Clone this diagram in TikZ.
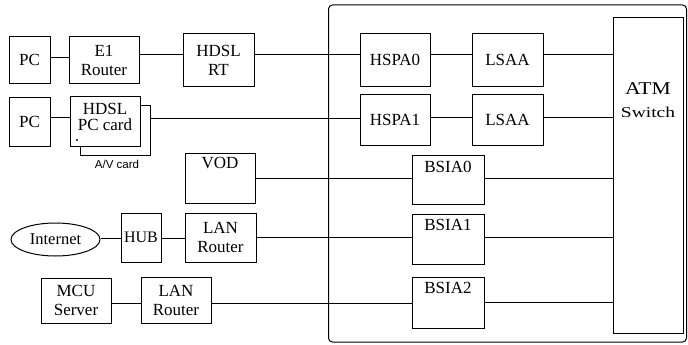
\documentclass[tikz,border=0pt]{standalone}
\usepackage{fontspec}
\usepackage{graphicx}
\setmainfont{Liberation Serif}
\newfontfamily\lsans{Liberation Sans}
\usetikzlibrary{shapes.geometric}
\begin{document}
\begin{tikzpicture}[x=1pt,y=-1pt,
  box/.style={draw, line width=1pt, rectangle, inner sep=0pt, align=center,
              font=\fontsize{17}{19}\selectfont},
  txt/.style={inner sep=0pt, align=center, font=\fontsize{17}{16}\selectfont},
  wire/.style={line width=0.9pt}]
\useasboundingbox (0,0) rectangle (688,345);

% big enclosure
\node[draw, line width=1pt, rectangle, rounded corners=4pt, inner sep=0pt,
      minimum width=358pt, minimum height=337pt] (encl) at (507.5,173.5) {};

% left column
\node[box, minimum width=41pt, minimum height=46pt] (pc1) at (29.5,60) {PC};
\node[box, minimum width=70pt, minimum height=46pt] (e1) at (104,60) {E1\\Router};
\node[box, minimum width=71pt, minimum height=52pt] (rt) at (218.5,60) {HDSL\\RT};

\node[box, minimum width=41pt, minimum height=49pt] (pc2) at (29.5,121.5) {PC};
\node[box, minimum width=70pt, minimum height=50pt] (cardback) at (115,130.5) {};
\node[box, fill=white, minimum width=70pt, minimum height=50pt] (card) at (105,121) {};
\node[txt] (cardtxt) at (105,117) {HDSL\\PC card};
\fill (77,140) circle (1.2pt);
\node[inner sep=0pt, font=\lsans\fontsize{11.5}{12}\selectfont] (avlbl) at (117,164) {A/V card};

\node[box, minimum width=70pt, minimum height=50pt, text height=15pt, text depth=35pt] (vod) at (220,178) {VOD};

\node[draw, line width=1pt, ellipse, inner sep=0pt, minimum width=89pt, minimum height=33pt,
      font=\fontsize{16.5}{18}\selectfont] (inet) at (55.5,239.5) {Internet};
\node[box, font=\fontsize{16}{18}\selectfont, minimum width=40pt, minimum height=49pt] (hub) at (141,237.5) {HUB};
\node[box, minimum width=71pt, minimum height=49pt] (lan1) at (220.5,237.5) {LAN\\Router};

\node[box, minimum width=70pt, minimum height=45pt] (mcu) at (76,300.5) {MCU\\Server};
\node[box, minimum width=70pt, minimum height=46pt] (lan2) at (176,300) {LAN\\Router};

% inside enclosure
\node[box, minimum width=70pt, minimum height=52pt] (hspa0) at (395,60) {HSPA0};
\node[box, minimum width=71pt, minimum height=52pt] (lsaa0) at (507.5,60) {LSAA};
\node[box, minimum width=70pt, minimum height=51pt] (hspa1) at (395,119.5) {HSPA1};
\node[box, minimum width=71pt, minimum height=51pt] (lsaa1) at (507.5,119.5) {LSAA};

\node[box, minimum width=72pt, minimum height=49pt, text height=17.5pt, text depth=31.5pt] (bsia0) at (448,179.5) {BSIA0};
\node[box, minimum width=72pt, minimum height=50pt, text height=16.5pt, text depth=33.5pt] (bsia1) at (448,239) {BSIA1};
\node[box, minimum width=72pt, minimum height=51pt, text height=16.5pt, text depth=34.5pt] (bsia2) at (448,302.5) {BSIA2};

\node[box, minimum width=70pt, minimum height=315pt] (atm) at (648,175.5) {};
\node[inner sep=0pt, font=\fontsize{18}{18}\selectfont] (atmA) at (648,89) {\scalebox{1.2}[1]{ATM}};
\node[inner sep=0pt, font=\fontsize{15}{15}\selectfont] (atmB) at (648,112) {\scalebox{1.3}[1]{Switch}};

% row levels
\coordinate (r1a) at (0,57);
\coordinate (r1) at (0,54);
\coordinate (r2) at (0,117);
\coordinate (r2b) at (0,118);
\coordinate (r3) at (0,178);
\coordinate (r4) at (0,238);
\coordinate (r4b) at (0,237);
\coordinate (r5) at (0,303);
\coordinate (r5b) at (0,302);

% connectors
\draw[wire] (pc1.east |- r1a) -- (e1.west |- r1a);
\draw[wire] (e1.east |- r1) -- (rt.west |- r1);
\draw[wire] (rt.east |- r1) -- (hspa0.west |- r1);
\draw[wire] (hspa0.east |- r1) -- (lsaa0.west |- r1);
\draw[wire] (lsaa0.east |- r1) -- (atm.west |- r1);

\draw[wire] (pc2.east |- r2) -- (card.west |- r2);
\draw[wire] (cardback.east |- r2b) -- (hspa1.west |- r2b);
\draw[wire] (hspa1.east |- r2) -- (lsaa1.west |- r2);
\draw[wire] (lsaa1.east |- r2) -- (atm.west |- r2);

\draw[wire] (vod.east |- r3) -- (bsia0.west |- r3);
\draw[wire] (bsia0.east |- r3) -- (atm.west |- r3);

\draw[wire] (inet.east |- r4) -- (hub.west |- r4);
\draw[wire] (hub.east |- r4) -- (lan1.west |- r4);
\draw[wire] (lan1.east |- r4b) -- (bsia1.west |- r4b);
\draw[wire] (bsia1.east |- r4b) -- (atm.west |- r4b);

\draw[wire] (mcu.east |- r5) -- (lan2.west |- r5);
\draw[wire] (lan2.east |- r5) -- (bsia2.west |- r5);
\draw[wire] (bsia2.east |- r5b) -- (atm.west |- r5b);
\end{tikzpicture}
\end{document}
